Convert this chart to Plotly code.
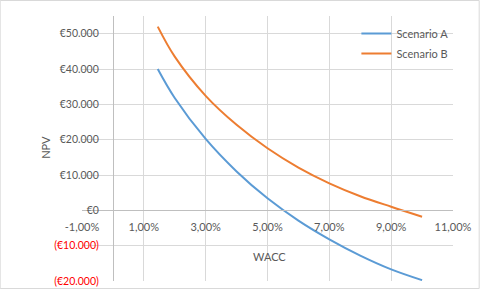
import plotly.graph_objects as go

# ---- data ----
wacc = [1.45, 2, 3, 4, 5, 6, 7, 8, 9, 10]  # percent
npv_a = [40000, 31800, 20200, 11000, 3400, -2900, -8200, -12800, -16700, -19750]
npv_b = [52000, 43500, 32400, 24200, 17560, 12100, 7650, 4000, 1020, -1800]

x_tickvals = [-1, 1, 3, 5, 7, 9, 11]
x_ticktext = ["-1,00%", "1,00%", "3,00%", "5,00%", "7,00%", "9,00%", "11,00%"]
y_tickvals = [-20000, -10000, 0, 10000, 20000, 30000, 40000, 50000]
y_ticktext = ["<span style='color:#ff0000'>(€20.000)</span>",
              "<span style='color:#ff0000'>(€10.000)</span>",
              "€0", "€10.000", "€20.000", "€30.000", "€40.000", "€50.000"]

X_RANGE = [-1, 11]
Y_RANGE = [-20000, 55000]

FONT = "Lato, 'Liberation Sans', sans-serif"
GRAY = "#595959"

fig = go.Figure()
fig.add_trace(go.Scatter(x=wacc, y=npv_a, mode="lines", name="Scenario A",
                         line=dict(color="#5b9bd5", width=2, shape="spline", smoothing=1.0),
                         legendgroup="a"))
fig.add_trace(go.Scatter(x=wacc, y=npv_b, mode="lines", name="Scenario B",
                         line=dict(color="#ed7d31", width=2, shape="spline", smoothing=1.0),
                         legendgroup="b"))

x_pos = (0 - Y_RANGE[0]) / (Y_RANGE[1] - Y_RANGE[0])
y_pos = (0 - X_RANGE[0]) / (X_RANGE[1] - X_RANGE[0])

fig.update_layout(
    template="none",
    width=480, height=289,
    margin=dict(l=82, r=27, t=16, b=8, autoexpand=False),
    paper_bgcolor="white", plot_bgcolor="white",
    font=dict(family=FONT, size=11, color=GRAY),
    showlegend=True,
    legend=dict(x=0.7396, y=0.989, xanchor="left", yanchor="top",
                bgcolor="rgba(0,0,0,0)", borderwidth=0, font=dict(size=11, color=GRAY),
                tracegroupgap=1, traceorder="grouped", itemwidth=30),
    xaxis=dict(range=X_RANGE, tickvals=x_tickvals, ticktext=x_ticktext,
               showgrid=True, gridcolor="#d9d9d9", gridwidth=1,
               zeroline=False, showline=True, linecolor="#bfbfbf", linewidth=1,
               anchor="free", position=x_pos, ticks="", ticklabelstandoff=6,
               automargin=False, tickfont=dict(size=11, color=GRAY)),
    yaxis=dict(range=Y_RANGE, tickvals=y_tickvals, ticktext=y_ticktext,
               showgrid=True, gridcolor="#d9d9d9", gridwidth=1,
               zeroline=False, showline=True, linecolor="#bfbfbf", linewidth=1,
               anchor="free", position=y_pos, ticks="", ticklabelstandoff=12,
               automargin=False, tickfont=dict(size=10.5, color=GRAY)),
    annotations=[
        dict(text="NPV", x=-0.0987, y=0.504, xref="paper", yref="paper",
             xanchor="center", yanchor="middle",
             textangle=-90, showarrow=False, font=dict(size=11, color=GRAY)),
        dict(text="WACC", x=0.506, y=0.0917, xref="paper", yref="paper",
             xanchor="center", yanchor="middle",
             showarrow=False, font=dict(size=11, color=GRAY)),
    ],
    shapes=[
        dict(type="rect", xref="paper", yref="paper",
             x0=-0.2205, x1=1.0706, y0=-0.0283, y1=1.0585,
             line=dict(color="#d9d9d9", width=1), layer="below"),
    ],
)

fig.write_html("out.html", config={"displayModeBar": False},
               post_script="document.body.style.margin='0px';")
